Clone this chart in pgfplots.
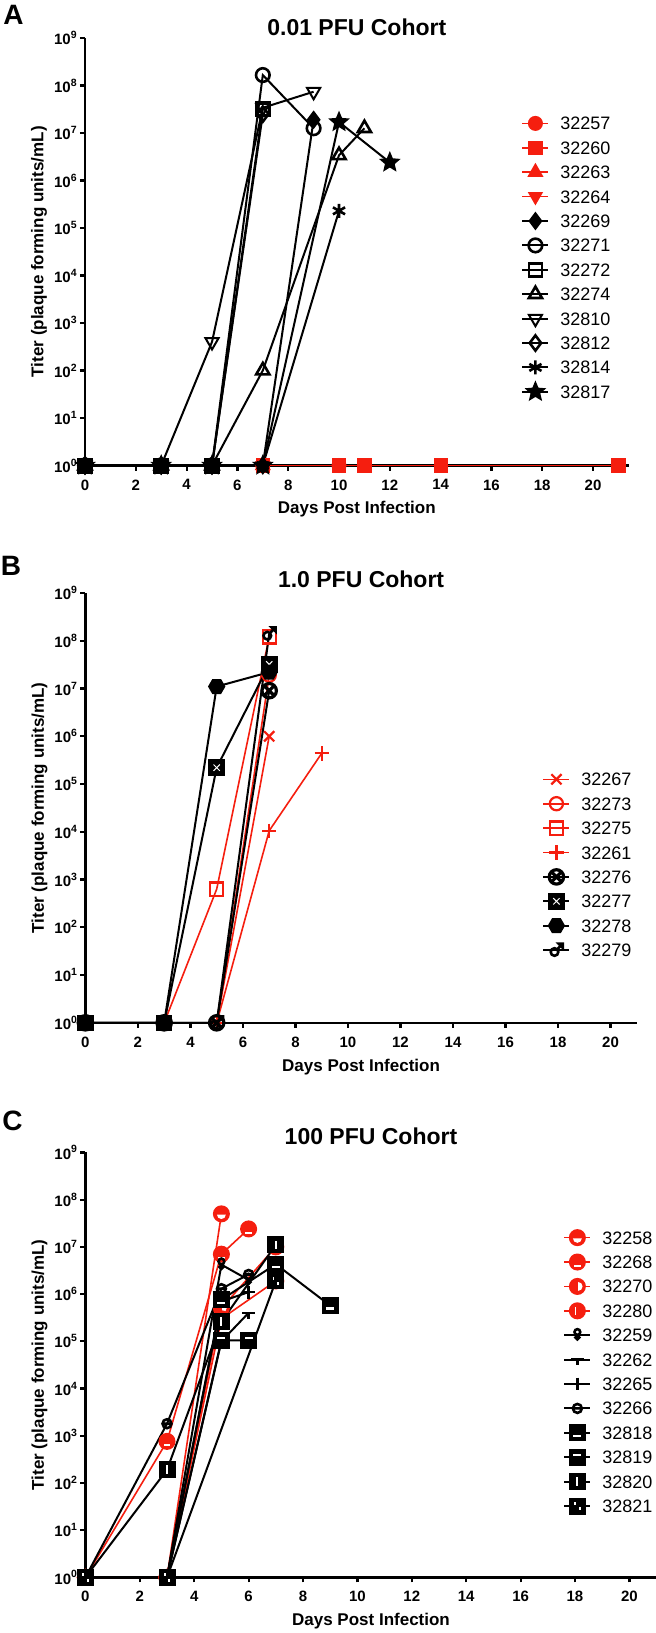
\documentclass[border=0pt]{standalone}
\usepackage{fontspec}
\setmainfont{Liberation Sans}
\usepackage{pgfplots}
\pgfplotsset{compat=1.18}
\usetikzlibrary{plotmarks}
\definecolor{cR}{RGB}{245,30,15}

% helper marks
\newcommand\fsq{\pgfpathrectangle{\pgfpoint{-\pgfplotmarksize}{-\pgfplotmarksize}}{\pgfpoint{2\pgfplotmarksize}{2\pgfplotmarksize}}\pgfusepathqfillstroke}
\newcommand\fci{\pgfpathcircle{\pgfpointorigin}{\pgfplotmarksize}\pgfusepathqfillstroke}
\newcommand\wrect[4]{\begin{pgfscope}\pgfsetfillcolor{white}\pgfpathrectangle{\pgfpoint{#1\pgfplotmarksize}{#2\pgfplotmarksize}}{\pgfpoint{#3\pgfplotmarksize}{#4\pgfplotmarksize}}\pgfusepathqfill\end{pgfscope}}

\pgfdeclareplotmark{fstar}{%
  \pgfpathmoveto{\pgfpointpolar{90}{\pgfplotmarksize}}%
  \pgfpathlineto{\pgfpointpolar{126}{0.45\pgfplotmarksize}}%
  \pgfpathlineto{\pgfpointpolar{162}{\pgfplotmarksize}}%
  \pgfpathlineto{\pgfpointpolar{198}{0.45\pgfplotmarksize}}%
  \pgfpathlineto{\pgfpointpolar{234}{\pgfplotmarksize}}%
  \pgfpathlineto{\pgfpointpolar{270}{0.45\pgfplotmarksize}}%
  \pgfpathlineto{\pgfpointpolar{306}{\pgfplotmarksize}}%
  \pgfpathlineto{\pgfpointpolar{342}{0.45\pgfplotmarksize}}%
  \pgfpathlineto{\pgfpointpolar{18}{\pgfplotmarksize}}%
  \pgfpathlineto{\pgfpointpolar{54}{0.45\pgfplotmarksize}}%
  \pgfpathclose\pgfusepathqfillstroke}
\pgfdeclareplotmark{hexa}{%
  \pgfpathmoveto{\pgfpointpolar{0}{\pgfplotmarksize}}%
  \pgfpathlineto{\pgfpointpolar{60}{\pgfplotmarksize}}%
  \pgfpathlineto{\pgfpointpolar{120}{\pgfplotmarksize}}%
  \pgfpathlineto{\pgfpointpolar{180}{\pgfplotmarksize}}%
  \pgfpathlineto{\pgfpointpolar{240}{\pgfplotmarksize}}%
  \pgfpathlineto{\pgfpointpolar{300}{\pgfplotmarksize}}%
  \pgfpathclose\pgfusepathqfillstroke}
\pgfdeclareplotmark{bsqx}{\fsq
  \begin{pgfscope}\pgfsetstrokecolor{white}\pgfsetlinewidth{0.5pt}%
  \pgfpathmoveto{\pgfpoint{-0.45\pgfplotmarksize}{-0.45\pgfplotmarksize}}%
  \pgfpathlineto{\pgfpoint{0.45\pgfplotmarksize}{0.45\pgfplotmarksize}}%
  \pgfpathmoveto{\pgfpoint{-0.45\pgfplotmarksize}{0.45\pgfplotmarksize}}%
  \pgfpathlineto{\pgfpoint{0.45\pgfplotmarksize}{-0.45\pgfplotmarksize}}%
  \pgfusepathqstroke\end{pgfscope}}
\pgfdeclareplotmark{mars}{%
  \pgfpathcircle{\pgfpoint{-0.25\pgfplotmarksize}{-0.25\pgfplotmarksize}}{0.5\pgfplotmarksize}%
  \pgfpathmoveto{\pgfpoint{0.1\pgfplotmarksize}{0.1\pgfplotmarksize}}%
  \pgfpathlineto{\pgfpoint{0.7\pgfplotmarksize}{0.7\pgfplotmarksize}}%
  \pgfusepathqstroke
  \pgfpathmoveto{\pgfpoint{0.3\pgfplotmarksize}{0.85\pgfplotmarksize}}%
  \pgfpathlineto{\pgfpoint{0.85\pgfplotmarksize}{0.85\pgfplotmarksize}}%
  \pgfpathlineto{\pgfpoint{0.85\pgfplotmarksize}{0.3\pgfplotmarksize}}%
  \pgfpathclose\pgfusepathqfillstroke}
\pgfdeclareplotmark{sqlo}{\fsq\wrect{-0.55}{-0.6}{1.1}{0.35}}
\pgfdeclareplotmark{sqhi}{\fsq\wrect{-0.55}{0.15}{1.1}{0.35}}
\pgfdeclareplotmark{sqv}{\fsq\wrect{-0.15}{-0.6}{0.3}{1.2}}
\pgfdeclareplotmark{sqd}{\fsq\wrect{-0.45}{0.15}{0.25}{0.45}\wrect{0.2}{-0.6}{0.25}{0.45}}
\pgfdeclareplotmark{cirlo}{\fci
  \begin{pgfscope}\pgfsetfillcolor{white}%
  \pgfpathmoveto{\pgfpoint{-0.6\pgfplotmarksize}{-0.1\pgfplotmarksize}}%
  \pgfpatharc{180}{360}{0.6\pgfplotmarksize}\pgfpathclose\pgfusepathqfill\end{pgfscope}}
\pgfdeclareplotmark{cirlt}{\fci\wrect{-0.45}{-0.65}{0.9}{0.3}}
\pgfdeclareplotmark{cirr}{\fci
  \begin{pgfscope}\pgfsetfillcolor{white}%
  \pgfpathmoveto{\pgfpoint{0.1\pgfplotmarksize}{0.6\pgfplotmarksize}}%
  \pgfpatharc{90}{-90}{0.6\pgfplotmarksize}\pgfpathclose\pgfusepathqfill\end{pgfscope}}
\pgfdeclareplotmark{cirl}{\fci\wrect{-0.35}{-0.5}{0.22}{1.0}}
\pgfdeclareplotmark{venus}{%
  \pgfpathcircle{\pgfpoint{0pt}{0.5\pgfplotmarksize}}{0.45\pgfplotmarksize}\pgfusepathqstroke
  \pgfpathcircle{\pgfpoint{0pt}{-0.35\pgfplotmarksize}}{0.3\pgfplotmarksize}\pgfusepathqfillstroke}
\pgfdeclareplotmark{tee}{%
  \pgfpathmoveto{\pgfpoint{-\pgfplotmarksize}{0pt}}\pgfpathlineto{\pgfpoint{\pgfplotmarksize}{0pt}}%
  \pgfpathmoveto{\pgfpointorigin}\pgfpathlineto{\pgfpoint{0pt}{-0.9\pgfplotmarksize}}\pgfusepathqstroke}
\pgfdeclareplotmark{ominus}{%
  \pgfpathcircle{\pgfpointorigin}{0.7\pgfplotmarksize}%
  \pgfpathmoveto{\pgfpoint{-0.7\pgfplotmarksize}{0pt}}\pgfpathlineto{\pgfpoint{0.7\pgfplotmarksize}{0pt}}\pgfusepathqstroke}

\tikzset{
  rd/.style={color=cR, line width=0.8pt, mark options={solid, line width=1.1pt, fill=cR}},
  bk/.style={color=black, line width=1pt, mark options={solid, line width=1.3pt, fill=black}},
}
\newcommand\legfont{\fontsize{9}{10}\selectfont}
\pgfplotsset{
  every axis title shift=0pt,
  /pgfplots/tpanel/.style={
    scale only axis, clip=false,
    xmin=0, ymin=1, ymax=1e9,
    axis x line*=bottom, axis y line*=left,
    axis line style={line width=1.3pt},
    tick style={line width=1.1pt, black},
    major tick length=2.5pt, tick align=outside,
    yminorticks=false, xminorticks=false,
    xtick={0,2,4,6,8,10,12,14,16,18,20},
    xticklabels={0,2,4,6,8,10,12,14,16,18,20},
    ytick={1,10,100,1000,1e4,1e5,1e6,1e7,1e8,1e9},
    yticklabels={10\textsuperscript{0},10\textsuperscript{1},10\textsuperscript{2},10\textsuperscript{3},10\textsuperscript{4},10\textsuperscript{5},10\textsuperscript{6},10\textsuperscript{7},10\textsuperscript{8},10\textsuperscript{9}},
    ticklabel style={font=\bfseries\fontsize{7.5}{8}\selectfont},
    xticklabel style={yshift=-1pt},
    yticklabel style={inner sep=1pt},
    xlabel={Days Post Infection},
    ylabel={Titer (plaque forming units/mL)},
    label style={font=\bfseries\fontsize{8.5}{10}\selectfont},
    xlabel style={at={(axis description cs:0.5,0)}, anchor=center, yshift=-22pt},
    ylabel style={at={(axis description cs:0,0.5)}, anchor=center, yshift=23pt},
    title style={at={(axis description cs:0.5,1)}, anchor=center, font=\bfseries\fontsize{11.5}{13}\selectfont},
    legend cell align=left,
    legend style={draw=none, fill=none, inner sep=0pt, anchor=north west,
      font=\legfont, row sep=2.7pt, column sep=5.5pt,
      nodes={inner sep=0pt, font=\legfont, text height=8pt, text depth=1.5pt}},
    legend image code/.code={\draw[mark repeat=2,mark phase=2] plot coordinates {(0pt,0pt)(6.5pt,0pt)(13pt,0pt)};},
  },
}

\begin{document}
\begin{tikzpicture}
\path[use as bounding box] (0,0) rectangle (328pt,-816.5pt);
\node[font=\bfseries\fontsize{14}{14}\selectfont] at (6.75pt,-7.5pt) {A};
\node[font=\bfseries\fontsize{14}{14}\selectfont] at (5.5pt,-282.7pt) {B};
\node[font=\bfseries\fontsize{14}{14}\selectfont] at (6.3pt,-560.3pt) {C};

% ---------------- A
\begin{semilogyaxis}[tpanel, at={(42.5pt,-232.75pt)}, anchor=south west,
  width=271.8pt, height=213.75pt, xmax=21.4,
  title={0.01 PFU Cohort}, title style={yshift=5.25pt},
  legend style={at={(0.8021,0.8234)}}]
\addplot[rd, mark=*, mark size=3.2pt] coordinates {(0,1)(3,1)(5,1)(7,1)(10,1)};
\addlegendentry{32257}
\addplot[rd, mark=square*, mark size=3pt] coordinates {(0,1)(3,1)(5,1)(7,1)(10,1)(11,1)(14,1)(21,1)};
\addlegendentry{32260}
\addplot[rd, mark=triangle*, mark size=3.6pt] coordinates {(0,1)(3,1)(5,1)(7,1)};
\addlegendentry{32263}
\addplot[rd, mark=triangle*, mark size=3.6pt, mark options={rotate=180}] coordinates {(0,1)(3,1)(5,1)(7,1)};
\addlegendentry{32264}
\addplot[bk, mark=diamond*, mark size=3.6pt] coordinates {(0,1)(3,1)(5,1)(7,1)(9,1.9e7)};
\addlegendentry{32269}
\addplot[bk, mark=o, mark size=3.4pt] coordinates {(0,1)(3,1)(5,1)(7,1.66e8)(9,1.26e7)};
\addlegendentry{32271}
\addplot[bk, mark=square, mark size=3.2pt] coordinates {(0,1)(3,1)(5,1)(7,3.2e7)};
\addlegendentry{32272}
\addplot[bk, mark=triangle, mark size=3.8pt] coordinates {(0,1)(3,1)(5,1)(7,100)(10,3.4e6)(11,1.26e7)};
\addlegendentry{32274}
\addplot[bk, mark=triangle, mark size=3.8pt, mark options={rotate=180}] coordinates {(0,1)(3,1)(5,400)(7,3.4e7)(9,7.4e7)};
\addlegendentry{32810}
\addplot[bk, mark=diamond, mark size=3.8pt] coordinates {(0,1)(3,1)(5,1)(7,2.5e7)};
\addlegendentry{32812}
\addplot[bk, mark=asterisk, mark size=3.5pt] coordinates {(0,1)(3,1)(5,1)(7,1)(10,2.3e5)};
\addlegendentry{32814}
\addplot[bk, mark=fstar, mark size=4pt] coordinates {(0,1)(3,1)(5,1)(7,1)(10,1.7e7)(12,2.4e6)};
\addlegendentry{32817}
% overlapping baseline markers
\addplot[forget plot, only marks, mark=square*, mark size=3.75pt, black] coordinates {(0,1)(3,1)(5,1)};
\end{semilogyaxis}

% ---------------- B
\begin{semilogyaxis}[tpanel, at={(42.7pt,-511.4pt)}, anchor=south west,
  width=275.7pt, height=214.9pt, xmax=21,
  title={1.0 PFU Cohort}, title style={yshift=7pt},
  legend style={at={(0.8281,0.5896)}}]
\addplot[rd, mark=x, mark size=3.6pt] coordinates {(0,1)(3,1)(5,1)(7,1e6)};
\addlegendentry{32267}
\addplot[rd, mark=o, mark size=3.3pt] coordinates {(0,1)(3,1)(5,1)(7,1.9e7)};
\addlegendentry{32273}
\addplot[rd, mark=square, mark size=3.3pt] coordinates {(0,1)(3,1)(5,630)(7,1.2e8)};
\addlegendentry{32275}
\addplot[rd, mark=+, mark size=3.6pt] coordinates {(0,1)(3,1)(5,1)(7,1.05e4)(9,4.4e5)};
\addlegendentry{32261}
\addplot[bk, mark=otimes, mark size=3.6pt, mark options={line width=1.6pt}] coordinates {(0,1)(3,1)(5,1)(7,9e6)};
\addlegendentry{32276}
\addplot[bk, mark=bsqx, mark size=3.5pt] coordinates {(0,1)(3,1)(5,2.2e5)(7,3.2e7)};
\addlegendentry{32277}
\addplot[bk, mark=hexa, mark size=3.6pt] coordinates {(0,1)(3,1)(5,1.1e7)(7,2.2e7)};
\addlegendentry{32278}
\addplot[bk, mark=mars, mark size=3.8pt] coordinates {(0,1)(3,1)(5,1)(7,1.4e8)};
\addlegendentry{32279}
\end{semilogyaxis}

% ---------------- C
\begin{semilogyaxis}[tpanel, at={(42.7pt,-788.7pt)}, anchor=south west,
  width=285.6pt, height=212.5pt, xmax=21,
  title={100 PFU Cohort}, title style={yshift=8.3pt},
  legend style={at={(0.8361,0.8228)}}]
\addplot[rd, mark=cirlo, mark size=3.7pt] coordinates {(0,1)(3,1)(5,5e7)};
\addlegendentry{32258}
\addplot[rd, mark=cirlt, mark size=3.7pt] coordinates {(0,1)(3,760)(5,7e6)(6,2.4e7)};
\addlegendentry{32268}
\addplot[rd, mark=cirr, mark size=3.7pt] coordinates {(0,1)(3,1)(5,5e5)(7,1e7)};
\addlegendentry{32270}
\addplot[rd, mark=cirl, mark size=3.7pt] coordinates {(0,1)(3,1)(5,3e5)(7,1.9e6)};
\addlegendentry{32280}
\addplot[bk, mark=venus, mark size=3.2pt] coordinates {(0,1)(3,1)(5,4.2e6)(6,2e6)};
\addlegendentry{32259}
\addplot[bk, mark=tee, mark size=3.2pt] coordinates {(0,1)(3,1)(5,1e5)(6,4e5)};
\addlegendentry{32262}
\addplot[bk, mark=+, mark size=3.2pt] coordinates {(0,1)(3,1)(5,7e5)(6,1.1e6)};
\addlegendentry{32265}
\addplot[bk, mark=ominus, mark size=3.2pt] coordinates {(0,1)(3,1800)(5,1.3e6)(6,2.6e6)};
\addlegendentry{32266}
\addplot[bk, mark=sqlo, mark size=3.6pt] coordinates {(0,1)(3,1)(5,7.6e5)(7,4.3e6)(9,5.7e5)};
\addlegendentry{32818}
\addplot[bk, mark=sqhi, mark size=3.6pt] coordinates {(0,1)(3,1)(5,1.05e5)(6,1.05e5)};
\addlegendentry{32819}
\addplot[bk, mark=sqv, mark size=3.6pt] coordinates {(0,1)(3,190)(5,2.6e5)(7,1.1e7)};
\addlegendentry{32820}
\addplot[bk, mark=sqd, mark size=3.6pt] coordinates {(0,1)(3,1)(7,1.9e6)};
\addlegendentry{32821}
\end{semilogyaxis}
\end{tikzpicture}
\end{document}
